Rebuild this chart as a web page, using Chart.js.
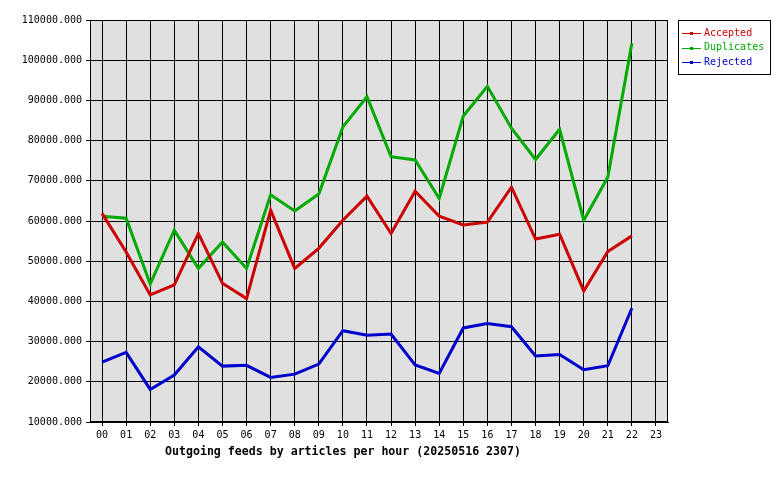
<!DOCTYPE html>
<html>
<head>
<meta charset="utf-8">
<script src="https://cdn.jsdelivr.net/npm/chart.js@4/dist/chart.umd.min.js"></script>
<style>
html,body{margin:0;padding:0;background:#fff;}
#wrap{width:780px;height:480px;position:relative;}
</style>
</head>
<body>
<div id="wrap"><canvas id="c" width="780" height="480"></canvas></div>
<script>
const hours = ["00","01","02","03","04","05","06","07","08","09","10","11","12","13","14","15","16","17","18","19","20","21","22","23"];
const accepted   = [61900,52300,41600,44100,56900,44500,40700,62700,48200,53200,60200,66200,56900,67400,61200,59000,59700,68400,55500,56700,42600,52400,56300,null];
const duplicates = [61200,60700,44300,57700,48200,54800,48200,66500,62500,66700,83400,90900,76000,75200,65600,86100,93500,83100,75300,82800,60200,70900,104200,null];
const rejected   = [24900,27300,18100,21700,28700,23900,24100,21100,21900,24400,32700,31600,31900,24200,22100,33400,34500,33700,26400,26800,23000,24000,38300,null];
const seriesNames = ["Accepted","Duplicates","Rejected"];
const seriesColors = ["#cc0000","#00aa00","#0000cc"];
const yMin = 10000, yMax = 110000, yStep = 10000;
const chartTitle = "Outgoing feeds by articles per hour (20250516 2307)";

const MONO = "'DejaVu Sans Mono', 'Liberation Mono', monospace";

const plotBg = {
  id: 'plotBg',
  beforeDraw(chart) {
    const {ctx, chartArea: a} = chart;
    ctx.save();
    ctx.fillStyle = '#e0e0e0';
    ctx.fillRect(a.left, a.top, a.right - a.left, a.bottom - a.top);
    ctx.restore();
  },
  afterDraw(chart) {
    const {ctx, chartArea: a} = chart;
    ctx.save();
    ctx.strokeStyle = '#000';
    ctx.lineWidth = 1;
    ctx.strokeRect(Math.round(a.left) + 0.5, Math.round(a.top) + 0.5, Math.round(a.right - a.left) - 1, Math.round(a.bottom - a.top) - 1);
    // title under the x axis
    ctx.fillStyle = '#000';
    ctx.font = "bold 11.6px " + MONO;
    ctx.textAlign = 'center';
    ctx.textBaseline = 'middle';
    ctx.fillText(chartTitle, 343, 452);
    // legend box
    const lx = 678, ly = 20, lw = 92, lh = 54;
    ctx.fillStyle = '#fff';
    ctx.fillRect(lx, ly, lw, lh);
    ctx.strokeRect(lx + 0.5, ly + 0.5, lw, lh);
    ctx.font = "10px " + MONO;
    ctx.textAlign = 'left';
    chart.data.datasets.forEach((ds, i) => {
      const yy = ly + 13 + i * 14.5;
      ctx.strokeStyle = ds.borderColor;
      ctx.lineWidth = 1;
      ctx.beginPath();
      ctx.moveTo(lx + 4, Math.round(yy) + 0.5);
      ctx.lineTo(lx + 23, Math.round(yy) + 0.5);
      ctx.stroke();
      ctx.strokeRect(lx + 12.5, Math.round(yy) - 0.5, 2, 2);
      ctx.fillStyle = ds.borderColor;
      ctx.fillText(ds.label, lx + 26, yy);
    });
    ctx.restore();
  }
};

const data = {
  labels: hours,
  datasets: [accepted, duplicates, rejected].map((vals, i) => ({
    label: seriesNames[i],
    data: vals,
    borderColor: seriesColors[i],
    backgroundColor: seriesColors[i],
    borderWidth: 3,
    pointRadius: 0,
    tension: 0,
    fill: false,
    spanGaps: false
  }))
};

new Chart(document.getElementById('c'), {
  type: 'line',
  data,
  plugins: [plotBg],
  options: {
    responsive: false,
    animation: false,
    devicePixelRatio: 1,
    layout: { padding: { left: 0, top: 20, right: 112, bottom: 0 } },
    plugins: { legend: { display: false }, tooltip: { enabled: false }, title: { display: false } },
    scales: {
      x: {
        type: 'category',
        offset: true,
        grid: { display: true, color: '#000', lineWidth: 1, offset: false, drawTicks: true, tickLength: 4, tickColor: '#000' },
        border: { display: true, color: '#000' },
        ticks: { color: '#000', font: { family: MONO, size: 10 }, padding: 3, autoSkip: false, maxRotation: 0 },
        afterFit(scale) { scale.height = 58; }
      },
      y: {
        min: yMin, max: yMax,
        grid: { display: true, color: '#000', lineWidth: 1, drawTicks: true, tickLength: 4, tickColor: '#000' },
        border: { display: true, color: '#000' },
        ticks: { stepSize: yStep, color: '#000', font: { family: MONO, size: 10 }, padding: 4, callback: v => Number(v).toFixed(3) },
        afterFit(scale) { scale.width = 90; }
      }
    }
  }
});
</script>
</body>
</html>
